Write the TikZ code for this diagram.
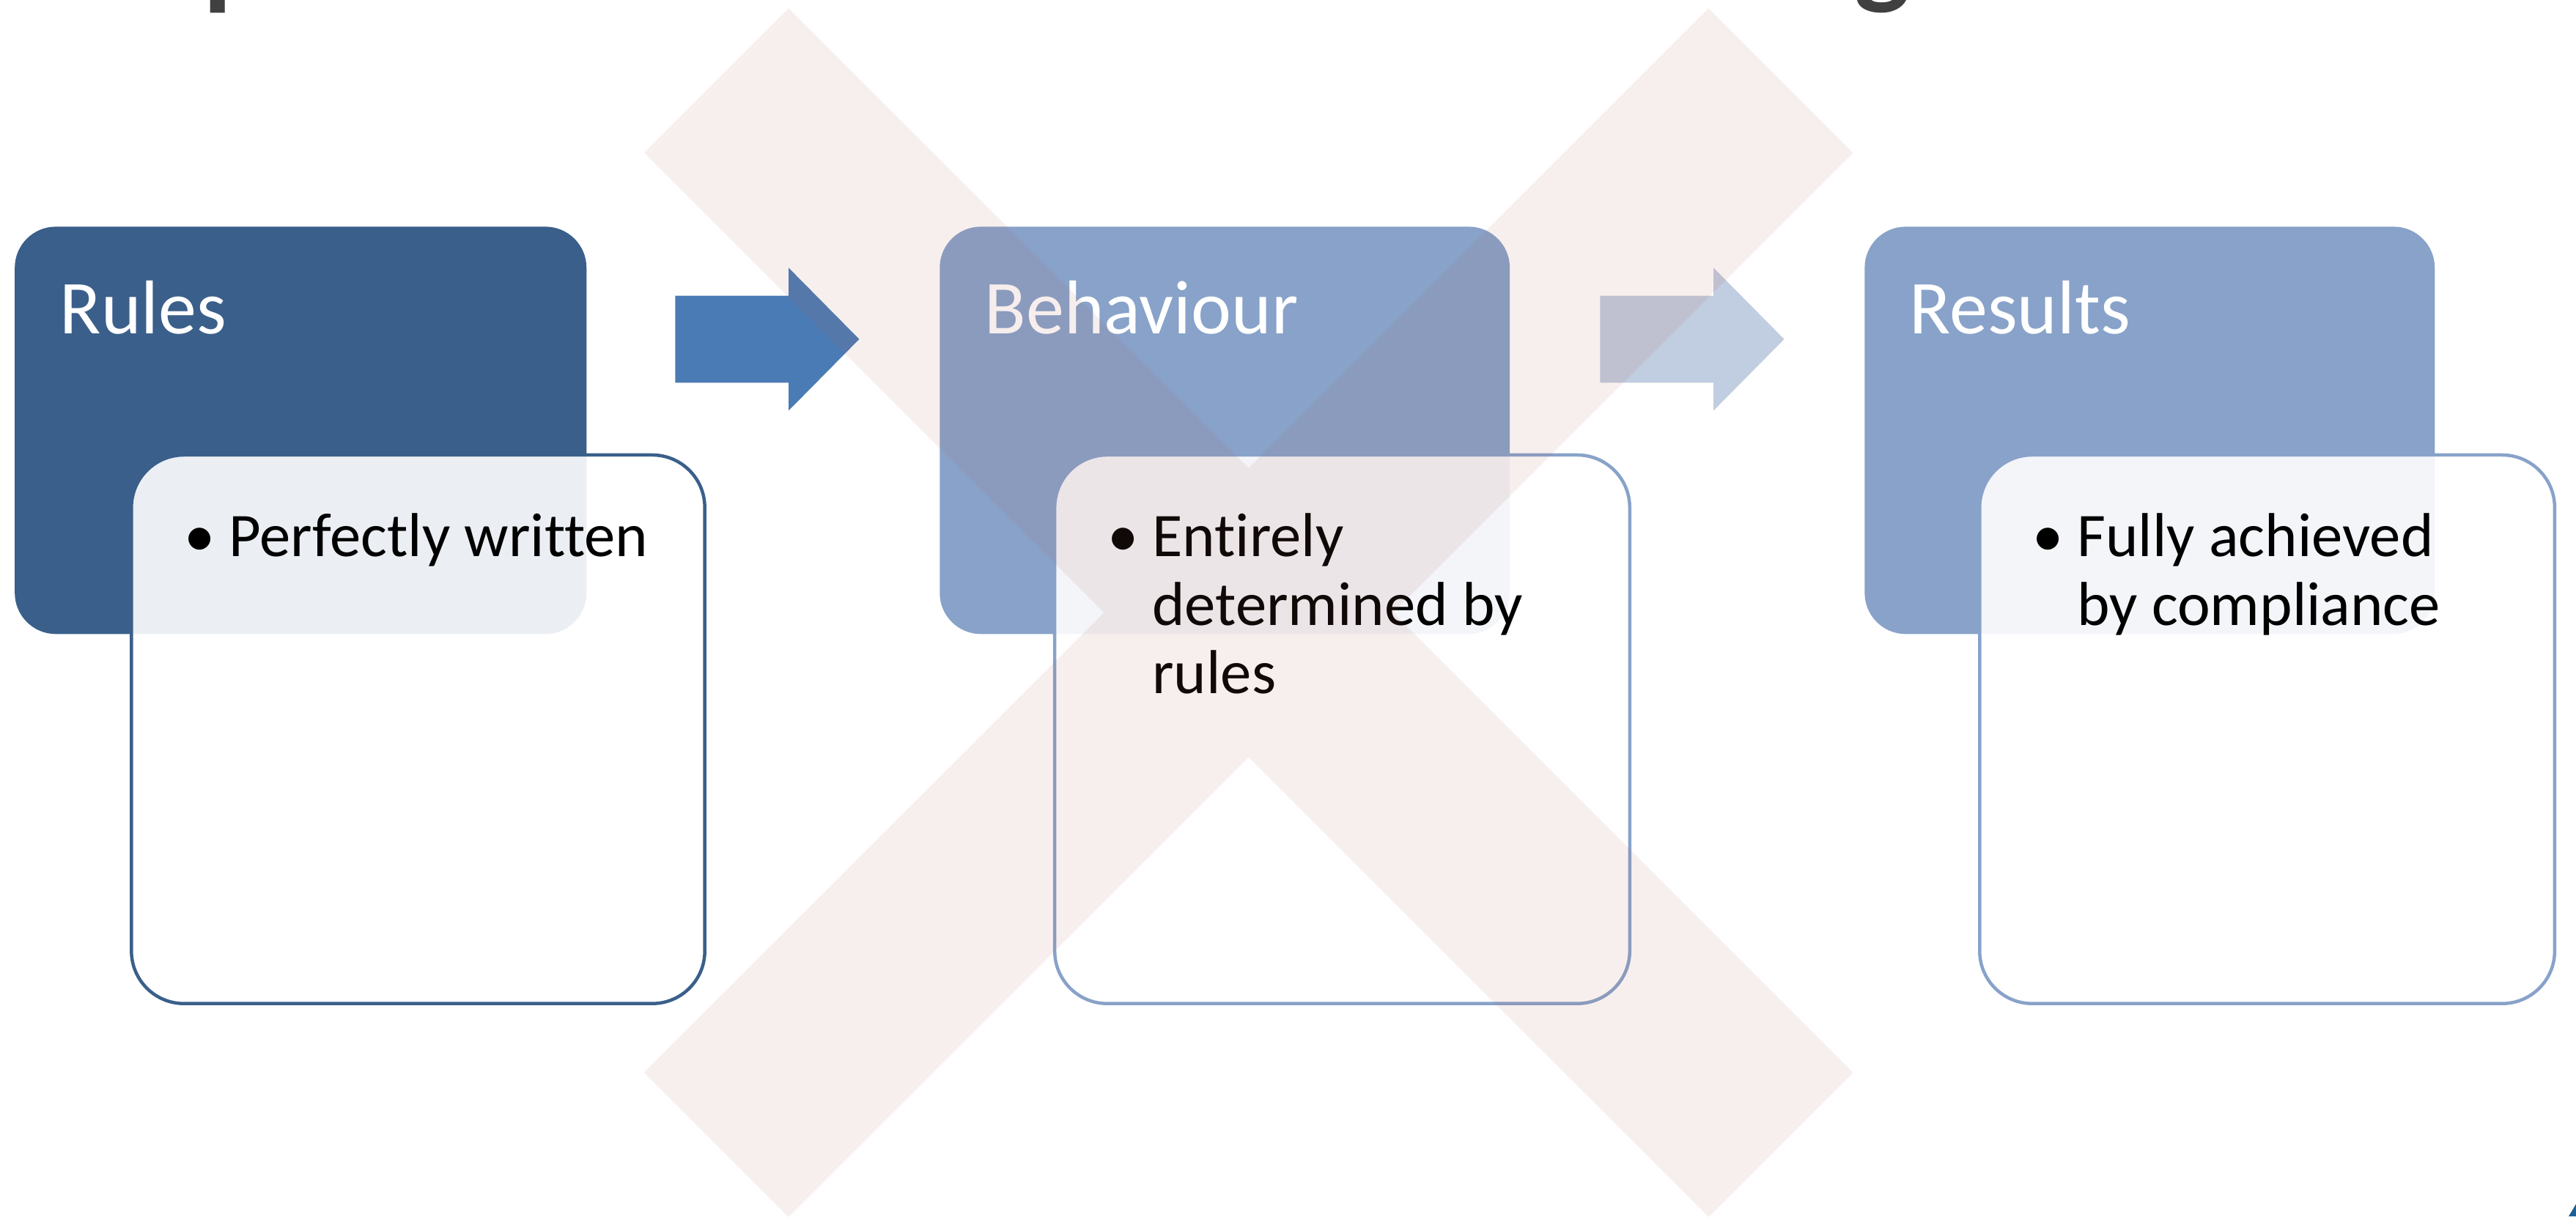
\documentclass[tikz,border=0pt]{standalone}
\usepackage{fontspec}
\setmainfont{Carlito}[Ligatures=NoCommon]
\definecolor{rulesblue}{RGB}{58,95,138}
\definecolor{stageblue}{RGB}{136,162,201}
\definecolor{arrowdark}{RGB}{74,123,180}
\definecolor{arrowpale}{RGB}{193,205,224}
\definecolor{crossred}{RGB}{175,95,85}
\definecolor{titlegrey}{RGB}{64,64,64}
\definecolor{cornerblue}{RGB}{30,95,150}
\begin{document}
\begin{tikzpicture}[x=0.5pt, y=-0.5pt, line cap=round, line join=round]
	\tikzset{stage/.style={rounded corners=12.5pt},
		card/.style={fill=white, fill opacity=0.9, line width=1pt, rounded corners=16pt},
		heading/.style={anchor=base west, inner sep=0pt, text=white, font=\fontsize{23.2}{28}\selectfont},
		item/.style={anchor=base west, inner sep=0pt, align=left, font=\fontsize{18.9}{20.85}\selectfont},
		cut/.style={anchor=south, inner sep=0pt, text=titlegrey, font=\bfseries\fontsize{36}{40}\selectfont}}
	\useasboundingbox (0,0) rectangle (1568,740.5);
	\clip (0,0) rectangle (1568,740.5);
	% title, cut off at the top
	\node[cut] (titlep) at (143,8.5) {p};
	\node[cut] (titleg) at (1146,8.5) {g};
	% heads
	\fill[rulesblue, stage] (9,138) rectangle (357,386);
	\fill[stageblue, stage] (572,138) rectangle (919,386);
	\fill[stageblue, stage] (1135,138) rectangle (1482,386);
	% block arrows
	\fill[arrowdark] (411,180)--(480,180)--(480,163)--(523,206.5)--(480,250)--(480,233)--(411,233)--cycle;
	\fill[arrowpale] (974,180)--(1043,180)--(1043,163)--(1086,206.5)--(1043,250)--(1043,233)--(974,233)--cycle;
	% cards
	\draw[card, draw=rulesblue] (80,277) rectangle (429,611);
	\draw[card, draw=stageblue] (642,277) rectangle (992,611);
	\draw[card, draw=stageblue] (1205,277) rectangle (1555,611);
	\node[heading] (rulestitle) at (36,203) {Rules};
	\node[heading] (behavtitle) at (599,203) {Behaviour};
	\node[heading] (resultstitle) at (1162,203) {Results};
	% multi-line items sit on their last baseline
	\node[item] (rulesdot) at (112,339) {\textbullet};
	\node[item] (rulestext) at (139,339) {Perfectly written};
	\node[item] (behavdot) at (674,339) {\textbullet};
	\node[item] (behavtext) at (701,422.4) {Entirely\\determined by\\rules};
	\node[item] (resultsdot) at (1237,339) {\textbullet};
	\node[item] (resultstext) at (1264,380.7) {Fully achieved\\by compliance};
	% the cross
	\fill[crossred, fill opacity=0.1] (392,93)--(480,5)--(760,285)--(1040,5)--(1128,93)--(848,373)
		--(1128,653)--(1040,741)--(760,461)--(480,741)--(392,653)--(672,373)--cycle;
	\fill[cornerblue] (1563.5,740.5)--(1568,740.5)--(1568,733)--cycle;
\end{tikzpicture}
\end{document}
